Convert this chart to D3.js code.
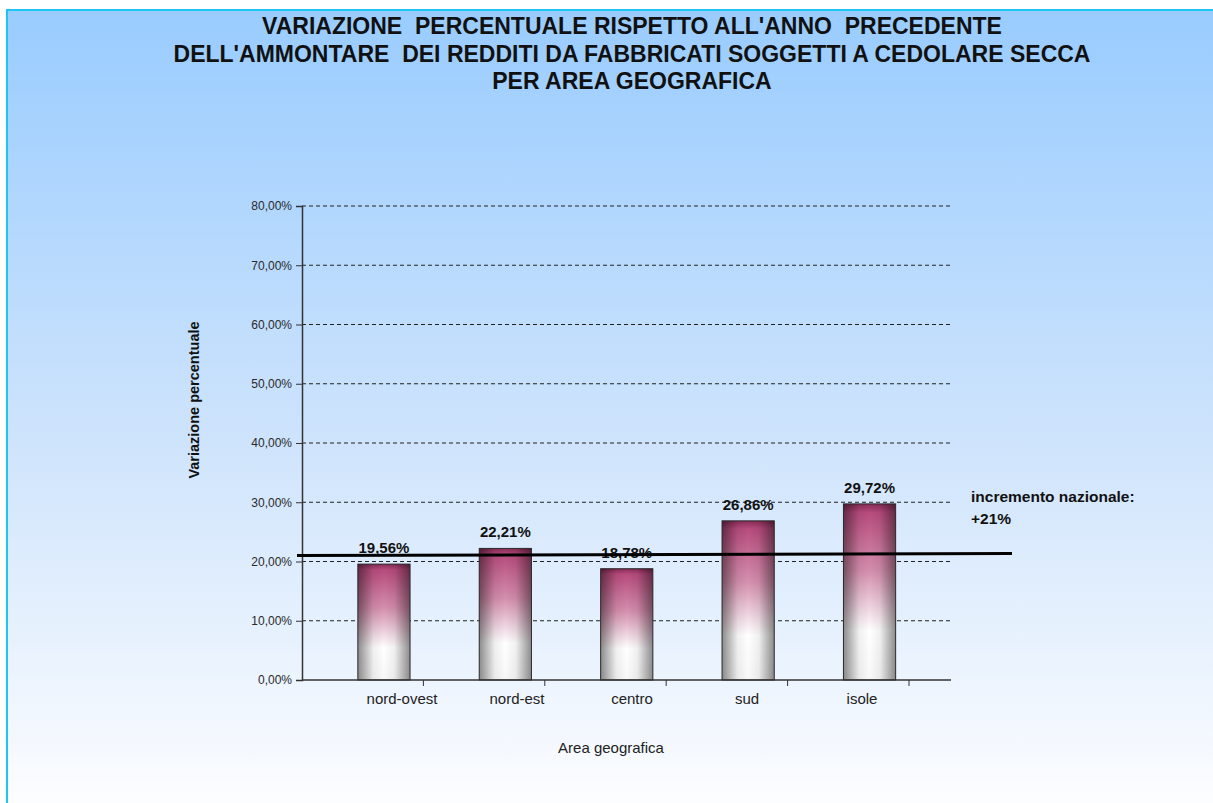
<!DOCTYPE html>
<html>
<head>
<meta charset="utf-8">
<script src="https://cdn.jsdelivr.net/npm/d3@7"></script>
<style>
	body { margin: 0; background: #ffffff; }
	text { font-family: "Liberation Sans", Arial, sans-serif; }
</style>
</head>
<body>
<div id="chart"></div>
<script>

let categories = ['nord-ovest', 'nord-est', 'centro', 'sud', 'isole']

let values = [19.56, 22.21, 18.78, 26.86, 29.72]

let valueLabels = ['19,56%', '22,21%', '18,78%', '26,86%', '29,72%']

let yTicks = [0, 10, 20, 30, 40, 50, 60, 70, 80]

let nationalValue = 21

let nationalLabel = ['incremento nazionale:', '+21%']

let titleLines = [
	"VARIAZIONE  PERCENTUALE RISPETTO ALL'ANNO  PRECEDENTE",
	"DELL'AMMONTARE  DEI REDDITI DA FABBRICATI SOGGETTI A CEDOLARE SECCA",
	"PER AREA GEOGRAFICA"
]

let width = 1213
let height = 803

let plotLeft = 302
let plotRight = 951
let plotTop = 206
let plotBottom = 680

const svg = d3.select('#chart')
	.append('svg')
	.attr('width', width)
	.attr('height', height)

let defs = svg.append('defs')

let bg = defs.append('linearGradient')
	.attr('id', 'bg')
	.attr('x1', 0).attr('y1', 0)
	.attr('x2', 0).attr('y2', 1)
bg.append('stop').attr('offset', '0%').attr('stop-color', '#99ccff')
bg.append('stop').attr('offset', '55%').attr('stop-color', '#cfe4fc')
bg.append('stop').attr('offset', '100%').attr('stop-color', '#fcfdff')

let barGrad = defs.append('linearGradient')
	.attr('id', 'barGrad')
	.attr('x1', 0).attr('y1', 0)
	.attr('x2', 0).attr('y2', 1)
barGrad.append('stop').attr('offset', '0%').attr('stop-color', '#8a2c58')
barGrad.append('stop').attr('offset', '5%').attr('stop-color', '#b84c7e')
barGrad.append('stop').attr('offset', '38%').attr('stop-color', '#d58fae')
barGrad.append('stop').attr('offset', '72%').attr('stop-color', '#ffffff')
barGrad.append('stop').attr('offset', '100%').attr('stop-color', '#f8f8f8')

let shade = defs.append('linearGradient')
	.attr('id', 'shade')
	.attr('x1', 0).attr('y1', 0)
	.attr('x2', 1).attr('y2', 0)
shade.append('stop').attr('offset', '0%').attr('stop-color', '#000').attr('stop-opacity', 0.45)
shade.append('stop').attr('offset', '30%').attr('stop-color', '#000').attr('stop-opacity', 0.06)
shade.append('stop').attr('offset', '50%').attr('stop-color', '#000').attr('stop-opacity', 0)
shade.append('stop').attr('offset', '70%').attr('stop-color', '#000').attr('stop-opacity', 0.06)
shade.append('stop').attr('offset', '100%').attr('stop-color', '#000').attr('stop-opacity', 0.45)

// frame
svg.append('rect')
	.attr('x', 7)
	.attr('y', 10)
	.attr('width', width - 7)
	.attr('height', height - 10)
	.attr('fill', 'url(#bg)')

svg.append('path')
	.attr('d', `M7,${height} L7,10 L${width},10`)
	.attr('fill', 'none')
	.attr('stroke', '#1cc6f4')
	.attr('stroke-width', 2)

svg.append('g')
	.selectAll('text')
	.data(titleLines)
	.join('text')
	.attr('x', 632)
	.attr('y', (d, i) => 34 + i * 27.5)
	.attr('text-anchor', 'middle')
	.attr('font-size', 23)
	.attr('font-weight', 'bold')
	.attr('fill', '#111')
	.style('white-space', 'pre')
	.text(d => d)

let yScale = d3.scaleLinear()
	.domain([0, 80])
	.range([plotBottom, plotTop])

let xScale = d3.scaleBand()
	.domain(categories)
	.range([plotLeft, 909])
	.padding(0)

let labelScale = d3.scalePoint()
	.domain(categories)
	.range([402, 862])

let itLocale = d3.formatLocale({decimal: ',', thousands: '.', grouping: [3], currency: ['', '€']})
let fmt = itLocale.format('.2f')

// gridlines
svg.append('g')
	.selectAll('line')
	.data(yTicks.filter(d => d > 0))
	.join('line')
	.attr('x1', plotLeft)
	.attr('x2', plotRight)
	.attr('y1', d => yScale(d))
	.attr('y2', d => yScale(d))
	.attr('stroke', '#222')
	.attr('stroke-width', 1)
	.attr('stroke-dasharray', '4,3')

yAxis = g => g
	.attr('transform', `translate(${plotLeft},0)`)
	.call(d3.axisLeft(yScale).tickValues(yTicks).tickSize(6).tickPadding(4).tickFormat(d => fmt(d) + '%'))
	.call(g => g.selectAll('.domain').attr('stroke', '#333').attr('stroke-width', 1.5))
	.call(g => g.selectAll('.tick line').attr('stroke', '#333'))
	.call(g => g.selectAll('.tick text')
		.attr('font-family', '"Liberation Sans", Arial, sans-serif')
		.attr('font-size', 12)
		.attr('fill', '#2a2a2a'))

svg.append('g').call(yAxis)

// bars
let barX = d => xScale(d) + xScale.bandwidth() * 0.46
let barW = xScale.bandwidth() * 0.43

let bars = svg.append('g')
	.selectAll('g')
	.data(categories)
	.join('g')

bars.append('rect')
	.attr('x', d => barX(d))
	.attr('y', (d, i) => yScale(values[i]))
	.attr('width', barW)
	.attr('height', (d, i) => yScale(0) - yScale(values[i]))
	.attr('fill', 'url(#barGrad)')

bars.append('rect')
	.attr('x', d => barX(d))
	.attr('y', (d, i) => yScale(values[i]))
	.attr('width', barW)
	.attr('height', (d, i) => yScale(0) - yScale(values[i]))
	.attr('fill', 'url(#shade)')
	.attr('stroke', '#2a2a2a')
	.attr('stroke-width', 1)

bars.append('text')
	.attr('x', d => barX(d) + barW / 2)
	.attr('y', (d, i) => yScale(values[i]) - 11)
	.attr('text-anchor', 'middle')
	.attr('font-size', 15)
	.attr('font-weight', 'bold')
	.attr('fill', '#111')
	.text((d, i) => valueLabels[i])

// x axis
svg.append('line')
	.attr('x1', plotLeft)
	.attr('x2', plotRight)
	.attr('y1', yScale(0))
	.attr('y2', yScale(0))
	.attr('stroke', '#333')
	.attr('stroke-width', 1.5)

svg.append('g')
	.selectAll('line')
	.data(categories)
	.join('line')
	.attr('x1', d => xScale(d) + xScale.bandwidth())
	.attr('x2', d => xScale(d) + xScale.bandwidth())
	.attr('y1', yScale(0))
	.attr('y2', yScale(0) + 6)
	.attr('stroke', '#333')

svg.append('g')
	.selectAll('text')
	.data(categories)
	.join('text')
	.attr('x', d => labelScale(d))
	.attr('y', yScale(0) + 24)
	.attr('text-anchor', 'middle')
	.attr('font-size', 15)
	.attr('fill', '#222')
	.text(d => d)

// national increment line
svg.append('line')
	.attr('x1', 297)
	.attr('x2', 1012)
	.attr('y1', yScale(nationalValue))
	.attr('y2', yScale(nationalValue) - 2)
	.attr('stroke', '#000')
	.attr('stroke-width', 3)

svg.append('g')
	.selectAll('text')
	.data(nationalLabel)
	.join('text')
	.attr('x', 971)
	.attr('y', (d, i) => 502 + i * 22)
	.attr('font-family', 'Lato, "Open Sans", sans-serif')
	.attr('font-size', 15.5)
	.attr('font-weight', 'bold')
	.attr('fill', '#111')
	.text(d => d)

// axis titles
svg.append('text')
	.attr('transform', 'translate(199,400) rotate(-90)')
	.attr('text-anchor', 'middle')
	.attr('font-size', 14.5)
	.attr('font-weight', 'bold')
	.attr('fill', '#111')
	.text('Variazione percentuale')

svg.append('text')
	.attr('x', 611)
	.attr('y', 753)
	.attr('text-anchor', 'middle')
	.attr('font-size', 15)
	.attr('fill', '#222')
	.text('Area geografica')

</script>
</body>
</html>
